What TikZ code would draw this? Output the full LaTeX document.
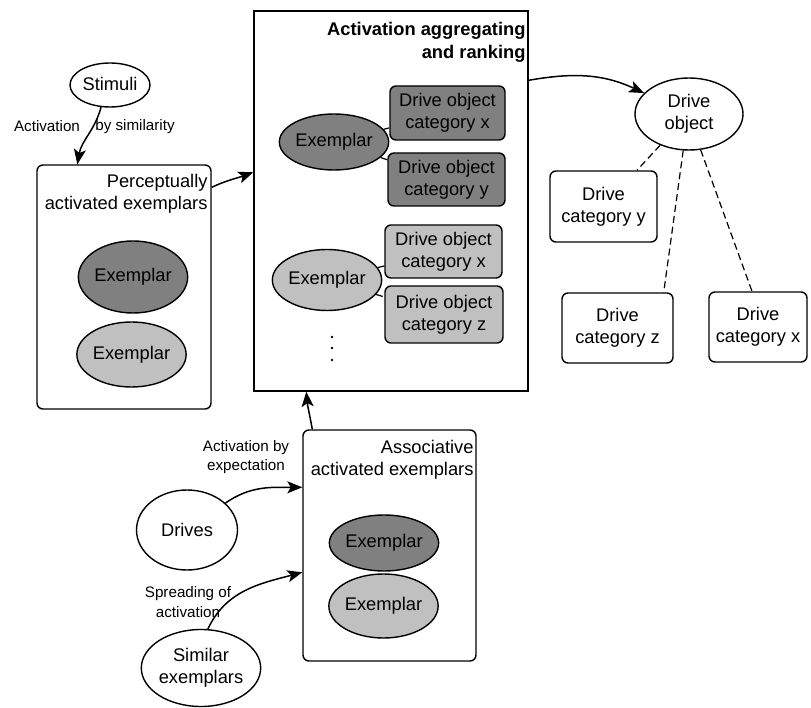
\documentclass[tikz,border=0pt]{standalone}
\usepackage{fontspec}
\setmainfont{Liberation Sans}
\usetikzlibrary{arrows.meta,shapes.geometric,calc}
\definecolor{exdark}{RGB}{128,128,128}
\definecolor{exlight}{RGB}{192,192,192}
\begin{document}
\begin{tikzpicture}[x=1pt,y=-1pt,
  every node/.style={font=\fontsize{18.3}{22}\selectfont},
  ell/.style={ellipse,draw,line width=1.4pt,inner sep=0pt,align=center},
  rbox/.style={draw,rounded corners=6pt,line width=1.4pt,inner sep=0pt,align=center},
  lbl/.style={font=\fontsize{15.2}{19.5}\selectfont,inner sep=0pt,align=center},
  arr/.style={-{Stealth[length=15pt,width=12pt,inset=3.5pt]},line width=1.5pt},
  dsh/.style={dash pattern=on 7pt off 4pt,line width=1.2pt},
  title/.style={anchor=north east,align=right,inner sep=0pt},
]
\useasboundingbox (0,0) rectangle (811,708);

% ---- perceptual path ----
\node[ell,minimum width=80pt,minimum height=44pt] (stim) at (110,85) {\raisebox{3pt}{Stimuli}};
\node[rbox,minimum width=174pt,minimum height=244pt] (perc) at (124,287) {};
\node[title] at ($(perc.north east)+(-4,10)$) {Perceptually\\activated exemplars};
\node[ell,fill=exdark,minimum width=92pt,minimum height=72pt] (pex1) at (133,277) {Exemplar};
\node[ell,fill=exlight,minimum width=93pt,minimum height=65pt] (pex2) at (131.5,354.5) {Exemplar};

% ---- aggregation and ranking ----
\node[draw,line width=1.4pt,minimum width=274pt,minimum height=380pt,inner sep=0pt] (big) at (391,201) {};
\node[title,font=\fontsize{18.3}{23}\selectfont\bfseries] at ($(big.north east)+(-3,12)$) {Activation aggregating\hspace{6pt}\\and ranking};

\node[ell,fill=exdark,minimum width=88pt,minimum height=56pt] (bex1) at (334,142) {Exemplar};
\node[rbox,fill=exdark,minimum width=115pt,minimum height=54pt] (cx1) at (447.5,113) {Drive object\\category x};
\node[rbox,fill=exdark,minimum width=117pt,minimum height=53pt] (cy1) at (446.5,179.5) {Drive object\\category y};

\node[ell,fill=exlight,minimum width=100pt,minimum height=61pt] (bex2) at (327,280) {Exemplar};
\node[rbox,fill=exlight,minimum width=117pt,minimum height=53pt] (cx2) at (443.5,251.5) {Drive object\\category x};
\node[rbox,fill=exlight,minimum width=118pt,minimum height=57pt] (cz2) at (444,314.5) {Drive object\\category z};

\foreach \yy in {337,348,360} \fill (332,\yy) circle (1.3pt);

\draw[dsh] (bex1) -- (cx1);
\draw[dsh] (bex1) -- (cy1);
\draw[dsh] (bex2) -- (cx2);
\draw[dsh] (bex2) -- (cz2);

% ---- drive object and its categories ----
\node[ell,minimum width=108pt,minimum height=72pt] (dobj) at (689,114) {Drive\\object};
\node[rbox,minimum width=107pt,minimum height=71pt] (dcy) at (603.5,206.5) {Drive\\category y};
\node[rbox,minimum width=111pt,minimum height=70pt] (dcz) at (617.5,328) {Drive\\category z};
\node[rbox,minimum width=98pt,minimum height=70pt] (dcx) at (758,327) {Drive\\category x};

\draw[dsh] (dobj) -- (dcy);
\draw[dsh] (dobj.-99) -- ($(dcz.north east)+(-10,0)$);
\draw[dsh] (dobj.-72) -- ($(dcx.north)+(-6,0)$);

% ---- associative path ----
\node[rbox,minimum width=173pt,minimum height=231pt] (assoc) at (389.5,545.5) {};
\node[title] at ($(assoc.north east)+(-3,11)$) {Associative\\activated exemplars};
\node[ell,fill=exdark,minimum width=96pt,minimum height=56pt] (aex1) at (384,543) {Exemplar};
\node[ell,fill=exlight,minimum width=99pt,minimum height=64pt] (aex2) at (383.5,606) {Exemplar};

\node[ell,minimum width=101pt,minimum height=80pt] (drives) at (187,530) {Drives};
\node[ell,minimum width=118pt,minimum height=77pt] (sim) at (201,668) {Similar\\exemplars};

% ---- edge labels ----
\node[lbl] (l1) at (47,126) {Activation};
\node[lbl] (l2) at (135,127) {by similarity};
\node[lbl] (l3) at (246,457) {Activation by\\expectation};
\node[lbl] (l4) at (188,602) {Spreading of\\activation};

% ---- arrows ----
\draw[arr] (stim.-112) to[out=-105,in=80] ($(perc.north west)+(41,0)$);
\draw[arr] ($(perc.north east)+(0,23)$) to[out=25,in=200] ($(big.north west)+(0,162)$);
\draw[arr] ($(big.north east)+(0,70)$) to[out=10,in=155] (dobj.155);
\draw[arr] ($(assoc.north west)+(10,0)$) to[out=100,in=-85] ($(big.south west)+(53,0)$);
\draw[arr] (drives.35) to[out=35,in=180] ($(assoc.north west)+(0,58)$);
\draw[arr] (sim.80) to[out=65,in=195] ($(assoc.north west)+(0,143)$);
\end{tikzpicture}
\end{document}
